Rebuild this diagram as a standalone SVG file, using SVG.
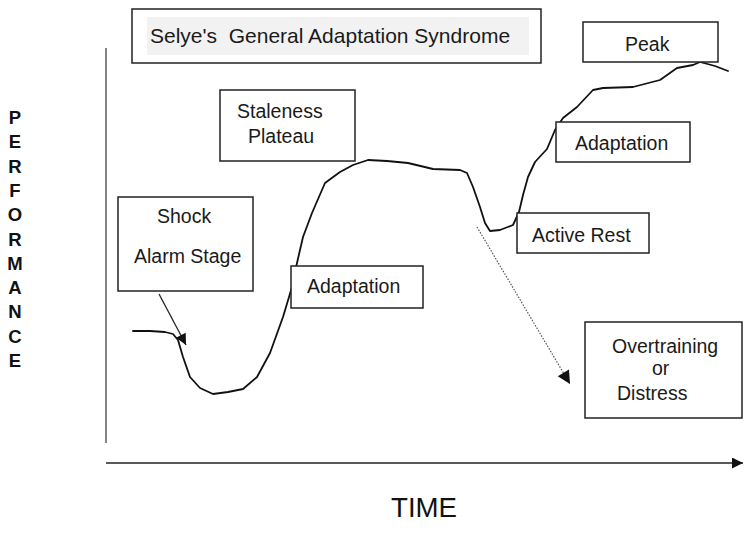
<svg xmlns="http://www.w3.org/2000/svg" width="744" height="540" viewBox="0 0 744 540">
<style>
.box{fill:#fff;stroke:#222;stroke-width:1.5}
.lbl{font-family:"Liberation Sans",Arial,sans-serif;font-size:19.5px;fill:#1a1a1a}
.axl{font-family:"Liberation Sans",Arial,sans-serif;font-weight:bold;font-size:18.5px;fill:#111;text-anchor:middle}
.curve{fill:none;stroke:#111;stroke-width:1.8;stroke-linejoin:round;stroke-linecap:round}
</style>
<defs>
<marker id="ah" viewBox="0 0 10 10" refX="10" refY="5" markerWidth="12" markerHeight="11" markerUnits="userSpaceOnUse" orient="auto">
<path d="M0,0 L10,5 L0,10 z" fill="#111"/>
</marker>
<marker id="ah2" viewBox="0 0 10 10" refX="10" refY="5" markerWidth="15" markerHeight="13" markerUnits="userSpaceOnUse" orient="auto">
<path d="M0,0 L10,5 L0,10 z" fill="#111"/>
</marker>
</defs>
<rect width="744" height="540" fill="#fff"/>

<g id="axes">
<line x1="106" y1="48" x2="106" y2="443" stroke="#333" stroke-width="1.2"/>
<line x1="106" y1="463" x2="743" y2="463" stroke="#222" stroke-width="1.5" marker-end="url(#ah)"/>
<text x="424" y="517" font-family="Liberation Sans,Arial,sans-serif" font-size="27" fill="#111" text-anchor="middle" textLength="66" lengthAdjust="spacingAndGlyphs">TIME</text>
<g class="axl">
<text x="15" y="124">P</text>
<text x="15" y="148">E</text>
<text x="15" y="173">R</text>
<text x="15" y="197">F</text>
<text x="15" y="221">O</text>
<text x="15" y="246">R</text>
<text x="15" y="270">M</text>
<text x="15" y="294">A</text>
<text x="15" y="318">N</text>
<text x="15" y="343">C</text>
<text x="15" y="367">E</text>
</g>
</g>

<g id="curve">
<path class="curve" d="M133,331 L150,331 L165,332 L173,334 L178,340 L183,357 L190,377 L200,388 L213,394 L228,392 L243,389 L257,377 L270,353 L283,317 L292,287 L297,263 L303,237 L312,213 L325,183 L340,172 L353,165 L368,160 L387,161 L408,163 L433,169 L460,170 L467,173 L473,187 L480,207 L485,223 L490,231 L500,230 L513,225 L519,212 L523,195 L528,177 L535,162 L547,149 L555,130 L563,118 L577,107 L593,90 L603,88 L633,87 L660,80 L677,68 L693,65 L700,62 L715,66 L728,71"/>
</g>

<g id="connectors">
<line x1="159" y1="294" x2="186" y2="345" stroke="#222" stroke-width="1.3" marker-end="url(#ah)"/>
<line x1="477" y1="227" x2="570" y2="384" stroke="#555" stroke-width="1.2" stroke-dasharray="1.5 1.5" marker-end="url(#ah2)"/>
</g>

<g id="title">
<rect class="box" x="132" y="9" width="409" height="54"/>
<rect x="147" y="17" width="382" height="38" fill="#f2f2f2"/>
<text class="lbl" x="150" y="43" style="font-size:21px;white-space:pre" xml:space="preserve">Selye's  General Adaptation Syndrome</text>
</g>

<g id="peak">
<rect class="box" x="583" y="22" width="135" height="40"/>
<text class="lbl" x="625" y="51">Peak</text>
</g>

<g id="staleness">
<rect class="box" x="220" y="90" width="135" height="71"/>
<text class="lbl" x="237" y="118">Staleness</text>
<text class="lbl" x="248" y="143">Plateau</text>
</g>

<g id="adaptation-upper">
<rect class="box" x="556" y="122" width="134" height="40"/>
<text class="lbl" x="575" y="150">Adaptation</text>
</g>

<g id="shock">
<rect class="box" x="118" y="197" width="135" height="94"/>
<text class="lbl" x="157" y="223">Shock</text>
<text class="lbl" x="134" y="263">Alarm Stage</text>
</g>

<g id="active-rest">
<rect class="box" x="517" y="213" width="132" height="40"/>
<text class="lbl" x="532" y="242">Active Rest</text>
</g>

<g id="adaptation-lower">
<rect class="box" x="291" y="266" width="132" height="42"/>
<text class="lbl" x="307" y="293">Adaptation</text>
</g>

<g id="overtraining">
<rect class="box" x="585" y="322" width="157" height="96"/>
<text class="lbl" x="612" y="353">Overtraining</text>
<text class="lbl" x="652" y="375">or</text>
<text class="lbl" x="617" y="400">Distress</text>
</g>
</svg>
